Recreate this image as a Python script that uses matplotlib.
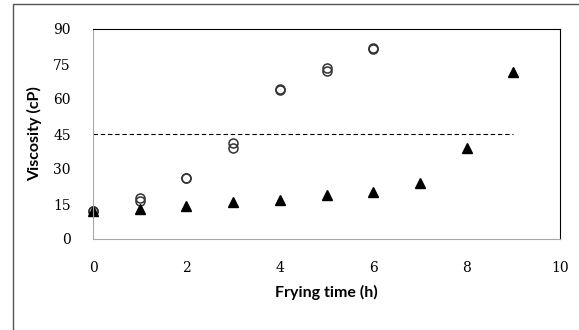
import matplotlib.pyplot as plt
from matplotlib.patches import Rectangle

# frying time (h) and viscosity (cP), two replicates for the open circles
hours_a = [0, 0, 1, 1, 2, 2, 3, 3, 4, 4, 5, 5, 6, 6]
visc_a = [12, 12, 17.5, 16.5, 26, 26, 41, 39, 64.5, 63.8, 73.5, 72, 82, 81.6]
hours_b = [0, 1, 2, 3, 4, 5, 6, 7, 8, 9]
visc_b = [12, 12.7, 14.1, 15.7, 16.7, 18.9, 20.3, 24.1, 38.9, 71.4]
limit = 45
limit_span = [0, 9]
x_ticks = [0, 2, 4, 6, 8, 10]
y_ticks = [0, 15, 30, 45, 60, 75, 90]

fig = plt.figure(figsize=(5.79, 3.30), dpi=100)
ax = fig.add_axes([93 / 579, 1 - 239 / 330, (560 - 93) / 579, (239 - 29) / 330])

# outer chart frame (only top and left edges visible in the crop)
fig.patches.append(Rectangle((13 / 579, -0.5), 2, 1.5 - 4 / 330,
                             transform=fig.transFigure, fill=False,
                             edgecolor='#555555', linewidth=1.0))

ax.hlines(limit, limit_span[0], limit_span[1], colors='black',
          linestyles=(0, (4, 2.5)), linewidth=0.8)
ax.plot(hours_a, visc_a, 'o', markersize=6.5, markerfacecolor='none',
        markeredgecolor='#333333', markeredgewidth=1.1, clip_on=False)
ax.plot(hours_b, visc_b, '^', markersize=7.2, color='black', clip_on=False)

ax.set_xlim(0, 10)
ax.set_ylim(0, 90)
ax.set_xticks(x_ticks)
ax.set_yticks(y_ticks)
ax.tick_params(length=0)
ax.tick_params(axis='x', pad=16)
ax.tick_params(axis='y', pad=16)
for lab in ax.get_xticklabels() + ax.get_yticklabels():
    lab.set_fontfamily('DejaVu Serif')
    lab.set_fontsize(10)

for side in ['left', 'bottom']:
    ax.spines[side].set_color('#a6a6a6')
for side in ['top', 'right']:
    ax.spines[side].set_color('black')

ax.set_xlabel('Frying time (h)', fontfamily='Lato', fontweight='bold',
              fontsize=11.5, labelpad=7)
ax.set_ylabel('Viscosity (cP)', fontfamily='Lato', fontweight='bold',
              fontsize=11.5, labelpad=8)

fig.savefig('out.png', dpi=100)
